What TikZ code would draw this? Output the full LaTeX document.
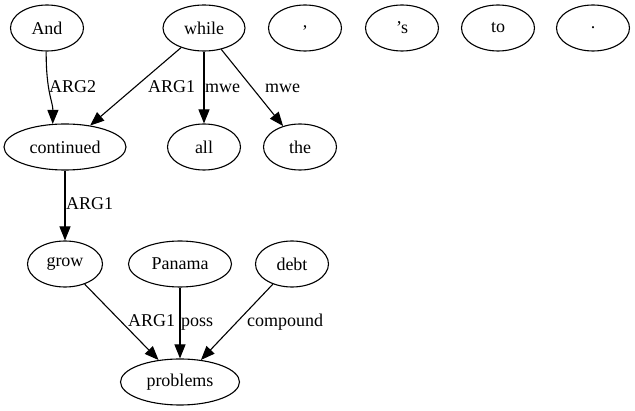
\documentclass[tikz,border=0pt]{standalone}
\usepackage{fontspec}
\setmainfont{Liberation Serif}
\usetikzlibrary{shapes.geometric,arrows.meta}
\tikzset{
  tok/.style={draw, ellipse, line width=1.1pt, inner sep=0pt, minimum width=73pt, minimum height=46pt, font=\fontsize{18}{20}\selectfont},
  lab/.style={anchor=base west, inner sep=0pt, font=\fontsize{18}{20}\selectfont},
  edge/.style={line width=1.1pt, -{Triangle[length=14pt,width=11pt]}}
}
\begin{document}
\begin{tikzpicture}[x=1pt,y=-1pt]
\useasboundingbox (0,0) rectangle (635,411);
% nodes
\node[tok] (And) at (47,28) {And};
\node[tok, minimum width=82pt] (while) at (204,28) {while};
\node[tok] (comma) at (305,28) {,};
\node[tok] (s) at (402,28) {’s};
\node[tok] (to) at (498,28) {to};
\node[tok] (dot) at (593,28) {.};
\node[tok, minimum width=122pt] (continued) at (65,147) {continued};
\node[tok] (all) at (204,147) {all};
\node[tok] (the) at (300,147) {the};
\node[tok, minimum width=75pt] (grow) at (65,264) {grow};
\node[tok, minimum width=103pt] (Panama) at (180,264) {Panama};
\node[tok] (debt) at (292,264) {debt};
\node[tok, minimum width=119pt] (problems) at (180,382) {problems};
% edges
\draw[edge] (And.268) .. controls (46,92) and (53,102) .. (continued.118);
\draw[edge] (while) -- (continued);
\draw[edge] (while) -- (all);
\draw[edge] (while) -- (the);
\draw[edge] (continued) -- (grow);
\draw[edge] (grow) -- (problems);
\draw[edge] (Panama) -- (problems);
\draw[edge] (debt) -- (problems);
% labels
\node[lab] (l1) at (49,93) {ARG2};
\node[lab] (l2) at (148,93) {ARG1};
\node[lab] (l3) at (205,93) {mwe};
\node[lab] (l4) at (265,93) {mwe};
\node[lab] (l5) at (66,210) {ARG1};
\node[lab] (l6) at (128,327) {ARG1};
\node[lab] (l7) at (181,327) {poss};
\node[lab] (l8) at (247,327) {compound};
\end{tikzpicture}
\end{document}
